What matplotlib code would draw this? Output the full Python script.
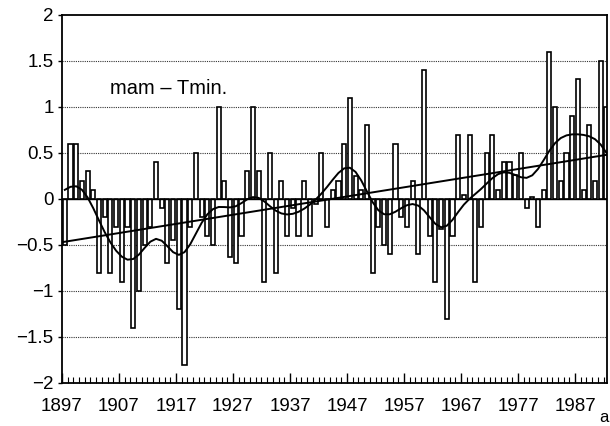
import numpy as np
import matplotlib
matplotlib.use("Agg")
import matplotlib.pyplot as plt

plt.rcParams['font.family'] = ['Liberation Sans', 'DejaVu Sans']

# ---- data ----
start_year = 1897
anomalies = [
    -0.5, 0.6, 0.6, 0.2, 0.3, 0.1, -0.8, -0.2, -0.8, -0.3,      # 1897-1906
    -0.9, -0.3, -1.4, -1.0, -0.5, -0.3, 0.4, -0.1, -0.7, -0.45,  # 1907-1916
    -1.2, -1.8, -0.3, 0.5, -0.2, -0.4, -0.5, 1.0, 0.2, -0.63,    # 1917-1926
    -0.7, -0.4, 0.3, 1.0, 0.3, -0.9, 0.5, -0.8, 0.2, -0.4,       # 1927-1936
    -0.1, -0.4, 0.2, -0.4, -0.05, 0.5, -0.3, 0.1, 0.2, 0.6,      # 1937-1946
    1.1, 0.25, 0.1, 0.8, -0.8, -0.3, -0.5, -0.6, 0.6, -0.2,      # 1947-1956
    -0.3, 0.2, -0.6, 1.4, -0.4, -0.9, -0.33, -1.3, -0.4, 0.7,    # 1957-1966
    0.04, 0.7, -0.9, -0.3, 0.5, 0.7, 0.1, 0.4, 0.4, 0.26,        # 1967-1976
    0.5, -0.1, 0.02, -0.3, 0.1, 1.6, 1.0, 0.2, 0.5, 0.9,         # 1977-1986
    1.3, 0.1, 0.8, 0.2, 1.5, 1.0,                                # 1987-1992
]
trend_years = [1897, 1992.6]
trend_vals = [-0.47, 0.48]
tick_years = [1897, 1907, 1917, 1927, 1937, 1947, 1957, 1967, 1977, 1987]
y_ticks = [-2, -1.5, -1, -0.5, 0, 0.5, 1, 1.5, 2]
y_labels = ['\u22122', '\u22121.5', '\u22121', '\u22120.5', '0', '0.5', '1', '1.5', '2']
title_text = 'mam \u2013 Tmin.'

vals = np.array(anomalies)
years = start_year + np.arange(len(vals))
xc = years + 0.5

# gaussian low-pass filter of the series
sigma = 2.6
k = np.arange(-9, 10)
w = np.exp(-0.5 * (k / sigma) ** 2)
w /= w.sum()
padded = np.pad(vals, 9, mode='constant')
smooth = np.convolve(padded, w, mode='same')[9:-9]

fig = plt.figure(figsize=(6.10, 4.26), dpi=100)
ax = fig.add_axes([0.1016, 0.101, 0.8934, 0.864])

for y in [-1.5, -1, -0.5, 0.5, 1, 1.5]:
    ax.axhline(y, color='#333333', lw=0.8, ls=(0, (1, 1)), zorder=0)

ax.bar(xc, vals, width=0.72, facecolor='white', edgecolor='black', linewidth=1.2, zorder=2)
ax.axhline(0, color='black', lw=1.0, zorder=3)
ax.plot(xc, smooth, color='black', lw=1.4, zorder=4)
ax.plot(trend_years, trend_vals, color='black', lw=1.4, zorder=4)

ax.set_xlim(1897, 1992.6)
ax.set_ylim(-2, 2)
ax.set_xticks(tick_years)
ax.set_xticklabels([str(t) for t in tick_years], fontsize=13.5)
ax.set_xticks(np.arange(1897, 1993, 1), minor=True)
ax.set_yticks(y_ticks)
ax.set_yticklabels(y_labels, fontsize=13.5)
ax.tick_params(axis='x', which='major', direction='in', length=7, width=1.0, pad=11)
ax.tick_params(axis='x', which='minor', direction='in', length=4, width=0.8)
ax.tick_params(axis='y', which='major', direction='out', length=3, width=1.0, pad=3)
for s in ax.spines.values():
    s.set_linewidth(1.3)

ax.text(1905.5, 1.2, title_text, fontsize=14.5, va='center', ha='left')
fig.text(0.982, 0.003, 'a', fontsize=12, ha='left', va='bottom')

fig.savefig('out.png', dpi=100)
